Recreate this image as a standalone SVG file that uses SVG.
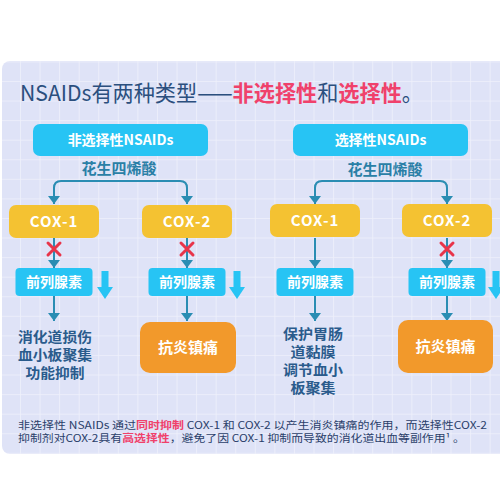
<svg xmlns="http://www.w3.org/2000/svg" width="500" height="500" viewBox="0 0 500 500">
<defs>
<pattern id="grid" x="0.4" y="2.7" width="19.57" height="19.57" patternUnits="userSpaceOnUse">
<rect width="19.57" height="19.57" fill="#dfe3f7"/>
<path d="M0 0V19.57M0 0H19.57" stroke="#eff1fb" stroke-width="1.6" fill="none"/>
</pattern>
<marker id="ah" viewBox="0 0 8 12" refX="8" refY="6" markerWidth="8" markerHeight="12" markerUnits="userSpaceOnUse" orient="auto">
<path d="M0 0L8 6L0 12z" fill="#2a8db3"/>
</marker>
<g id="down">
<rect x="-3.5" y="0" width="7" height="17" fill="#27c4f4"/>
<path d="M-8 16H8L0 28z" fill="#27c4f4"/>
</g>
<g id="x">
<path d="M-6 -6L6 6M6 -6L-6 6" stroke="#e8344a" stroke-width="3" stroke-linecap="round"/>
</g>
</defs>
<style>
text{font-family:"Noto Sans CJK SC","Noto Sans",sans-serif}
.blue{fill:#27c4f4}
.cox{fill:#f4c232}
.or{fill:#f2992b}
.wt{fill:#fff;font-weight:700;text-anchor:middle}
.ac{fill:#2a7fa6;font-weight:700;font-size:15px;text-anchor:middle}
.out{fill:#2a5b8c;font-weight:700;font-size:14px;text-anchor:middle}
.conn{stroke:#2a8db3;stroke-width:2;fill:none}
.pink{fill:#f0416b;font-weight:700}
</style>
<rect width="500" height="500" fill="#ffffff"/>
<rect x="2" y="61" width="510" height="393" rx="8" fill="url(#grid)"/>

<text x="20" y="101" font-size="22" fill="#2b4f7e" textLength="403" lengthAdjust="spacingAndGlyphs">NSAIDs有两种类型——<tspan class="pink">非选择性</tspan>和<tspan class="pink">选择性</tspan>。</text>

<g id="connectors">
<path class="conn" d="M120 181H61Q54 181 54 188V204" marker-end="url(#ah)"/>
<path class="conn" d="M120 181H180Q187 181 187 188V204" marker-end="url(#ah)"/>
<path class="conn" d="M381 181H322Q315 181 315 188V204" marker-end="url(#ah)"/>
<path class="conn" d="M381 181H440Q447 181 447 188V204" marker-end="url(#ah)"/>
<path class="conn" d="M54 238V268" marker-end="url(#ah)"/>
<path class="conn" d="M187 238V268" marker-end="url(#ah)"/>
<path class="conn" d="M315 238V268" marker-end="url(#ah)"/>
<path class="conn" d="M447 238V268" marker-end="url(#ah)"/>
<path class="conn" d="M54 296V321" marker-end="url(#ah)"/>
<path class="conn" d="M187 296V321" marker-end="url(#ah)"/>
<path class="conn" d="M315 296V321" marker-end="url(#ah)"/>
<path class="conn" d="M447 296V321" marker-end="url(#ah)"/>
<use href="#x" x="54" y="249"/>
<use href="#x" x="187" y="249"/>
<use href="#x" x="447" y="249"/>
</g>

<g id="hdr-nonselective">
<rect class="blue" x="33" y="124" width="175" height="32" rx="7"/>
<text class="wt" x="120.5" y="145" font-size="14">非选择性NSAIDs</text>
</g>
<g id="hdr-selective">
<rect class="blue" x="293" y="124" width="175" height="32" rx="7"/>
<text class="wt" x="380.5" y="145" font-size="14">选择性NSAIDs</text>
</g>
<g id="aa-left"><text class="ac" x="119" y="174">花生四烯酸</text></g>
<g id="aa-right"><text class="ac" x="385" y="175">花生四烯酸</text></g>

<g id="cox1-left">
<rect class="cox" x="9" y="205" width="90" height="33" rx="7"/>
<text class="wt" x="54" y="227" font-size="15" letter-spacing="1">COX-1</text>
</g>
<g id="cox2-left">
<rect class="cox" x="142" y="205" width="90" height="33" rx="7"/>
<text class="wt" x="187" y="227" font-size="15" letter-spacing="1">COX-2</text>
</g>
<g id="cox1-right">
<rect class="cox" x="270" y="204" width="90" height="33" rx="7"/>
<text class="wt" x="315" y="226" font-size="15" letter-spacing="1">COX-1</text>
</g>
<g id="cox2-right">
<rect class="cox" x="402" y="204" width="90" height="33" rx="7"/>
<text class="wt" x="447" y="226" font-size="15" letter-spacing="1">COX-2</text>
</g>

<g id="pg-left1">
<rect class="blue" x="15.5" y="268" width="77" height="28" rx="4"/>
<text class="wt" x="54" y="287" font-size="14">前列腺素</text>
<use href="#down" x="105" y="271"/>
</g>
<g id="pg-left2">
<rect class="blue" x="148.5" y="268" width="77" height="28" rx="4"/>
<text class="wt" x="187" y="287" font-size="14">前列腺素</text>
<use href="#down" x="237" y="271"/>
</g>
<g id="pg-right1">
<rect class="blue" x="276.5" y="268" width="77" height="28" rx="4"/>
<text class="wt" x="315" y="287" font-size="14">前列腺素</text>
</g>
<g id="pg-right2">
<rect class="blue" x="408.5" y="268" width="77" height="28" rx="4"/>
<text class="wt" x="447" y="287" font-size="14">前列腺素</text>
<use href="#down" x="496" y="271"/>
</g>

<g id="out-left1">
<text class="out" x="55" y="342" textLength="74" lengthAdjust="spacingAndGlyphs">消化道损伤</text>
<text class="out" x="55" y="360" textLength="74" lengthAdjust="spacingAndGlyphs">血小板聚集</text>
<text class="out" x="55" y="378" textLength="59" lengthAdjust="spacingAndGlyphs">功能抑制</text>
</g>
<g id="out-left2">
<rect class="or" x="140" y="322" width="96" height="51" rx="10"/>
<text class="wt" x="188" y="353" font-size="15">抗炎镇痛</text>
</g>
<g id="out-right1">
<text class="out" x="313" y="339" textLength="60" lengthAdjust="spacingAndGlyphs">保护胃肠</text>
<text class="out" x="313" y="357" textLength="45" lengthAdjust="spacingAndGlyphs">道黏膜</text>
<text class="out" x="313" y="375" textLength="60" lengthAdjust="spacingAndGlyphs">调节血小</text>
<text class="out" x="313" y="393" textLength="45" lengthAdjust="spacingAndGlyphs">板聚集</text>
</g>
<g id="out-right2">
<rect class="or" x="398" y="320" width="95" height="53" rx="10"/>
<text class="wt" x="445.5" y="352" font-size="15">抗炎镇痛</text>
</g>

<g id="footer" font-size="10.5" fill="#2b3f6a">
<text x="18" y="428.5" textLength="469" lengthAdjust="spacingAndGlyphs">非选择性 NSAIDs 通过<tspan class="pink">同时抑制</tspan> COX-1 和 COX-2 以产生消炎镇痛的作用，而选择性COX-2</text>
<text x="18" y="441.5" textLength="447" lengthAdjust="spacingAndGlyphs">抑制剂对COX-2具有<tspan class="pink">高选择性</tspan>，避免了因 COX-1 抑制而导致的消化道出血等副作用¹ 。</text>
</g>
</svg>
